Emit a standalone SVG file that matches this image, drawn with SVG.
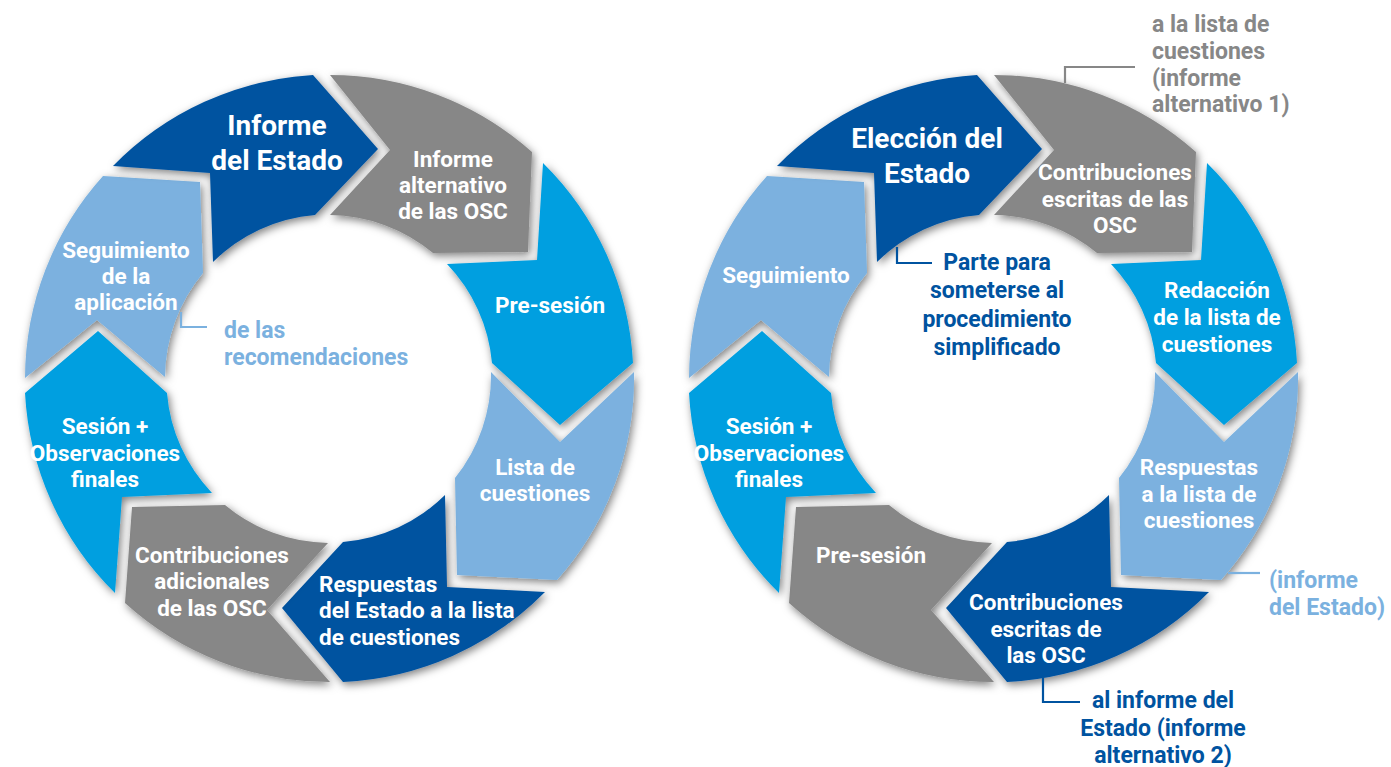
<svg xmlns="http://www.w3.org/2000/svg" width="1391" height="767" viewBox="0 0 1391 767">
<defs>
<filter id="sh" x="-20%" y="-20%" width="140%" height="140%">
<feDropShadow dx="2" dy="3" stdDeviation="4" flood-color="#000" flood-opacity="0.5"/>
</filter>
<style>
.db{fill:#0053A0}.gr{fill:#878787}.sb{fill:#009FE0}.lb{fill:#7BB1DF}
.seg{filter:url(#sh)}
.t{font-family:Roboto,"Liberation Sans",sans-serif;font-weight:700;font-size:22.5px;fill:#fff;text-anchor:middle}
.big{font-size:28px}
.l{text-anchor:start}
.a{font-family:Roboto,"Liberation Sans",sans-serif;font-weight:700;font-size:23px}
.adb{fill:#0053A0}.agr{fill:#878787}.alb{fill:#7BB1DF}
.ln{fill:none;stroke-width:2.2}
</style>
</defs>
<rect width="1391" height="767" fill="#fff"/>

<!-- LEFT CYCLE -->
<g id="l-seguimiento">
<path class="seg lb" d="M25,378 A304,304 0 0 1 103,176 L200,182 L203,273 A164,164 0 0 0 165,377 L97,320 Z"/>
<text class="t"><tspan x="126" y="258">Seguimiento</tspan><tspan x="126" y="284">de la</tspan><tspan x="126" y="310">aplicación</tspan></text>
</g>
<g id="l-informe-estado">
<path class="seg db" d="M113,166 A304,304 0 0 1 313,75 L378,149 L315,215 A164,164 0 0 0 213,262 L210,173 Z"/>
<text class="t big"><tspan x="277" y="135">Informe</tspan><tspan x="277" y="170">del Estado</tspan></text>
</g>
<g id="l-informe-alternativo">
<path class="seg gr" d="M330,75 A304,304 0 0 1 532,152 L528,252 L433,253 A164,164 0 0 0 330,215 L390,150 Z"/>
<text class="t"><tspan x="453" y="167">Informe</tspan><tspan x="453" y="193">alternativo</tspan><tspan x="453" y="219">de las OSC</tspan></text>
</g>
<g id="l-presesion">
<path class="seg sb" d="M543,163 A304,304 0 0 1 633,363 L560,425 L492,363 A164,164 0 0 0 447,264 L537,260 Z"/>
<text class="t"><tspan x="550" y="313">Pre-sesión</tspan></text>
</g>
<g id="l-lista">
<path class="seg lb" d="M634,372 A304,304 0 0 1 557,580 L457,575 L455,478 A164,164 0 0 0 491,372 L560,442 Z"/>
<text class="t"><tspan x="535" y="475">Lista de</tspan><tspan x="535" y="501">cuestiones</tspan></text>
</g>
<g id="l-respuestas">
<path class="seg db" d="M545,592 A304,304 0 0 1 343,682 L282,608 L343,542 A164,164 0 0 0 445,495 L447,587 Z"/>
<text class="t l"><tspan x="319" y="592">Respuestas</tspan><tspan x="319" y="618">del Estado a la lista</tspan><tspan x="319" y="645">de cuestiones</tspan></text>
</g>
<g id="l-contribuciones">
<path class="seg gr" d="M330,682 A304,304 0 0 1 125,603 L132,507 L225,505 A164,164 0 0 0 328,543 L267,610 Z"/>
<text class="t"><tspan x="212" y="563">Contribuciones</tspan><tspan x="212" y="589">adicionales</tspan><tspan x="212" y="616">de las OSC</tspan></text>
</g>
<g id="l-sesion">
<path class="seg sb" d="M115,593 A304,304 0 0 1 25,393 L98,331 L167,393 A164,164 0 0 0 212,493 L122,497 Z"/>
<text class="t"><tspan x="105" y="434">Sesión +</tspan><tspan x="105" y="461">Observaciones</tspan><tspan x="105" y="487">finales</tspan></text>
</g>

<!-- RIGHT CYCLE -->
<g id="r-seguimiento">
<path class="seg lb" transform="translate(664 0)" d="M25,378 A304,304 0 0 1 103,176 L200,182 L203,273 A164,164 0 0 0 165,377 L97,320 Z"/>
<text class="t"><tspan x="786" y="283">Seguimiento</tspan></text>
</g>
<g id="r-eleccion">
<path class="seg db" transform="translate(664 0)" d="M113,166 A304,304 0 0 1 313,75 L378,149 L315,215 A164,164 0 0 0 213,262 L210,173 Z"/>
<text class="t big"><tspan x="927" y="148">Elección del</tspan><tspan x="927" y="183">Estado</tspan></text>
</g>
<g id="r-contribuciones-1">
<path class="seg gr" transform="translate(664 0)" d="M330,75 A304,304 0 0 1 532,152 L528,252 L433,253 A164,164 0 0 0 330,215 L390,150 Z"/>
<text class="t"><tspan x="1115" y="180">Contribuciones</tspan><tspan x="1115" y="207">escritas de las</tspan><tspan x="1115" y="233">OSC</tspan></text>
</g>
<g id="r-redaccion">
<path class="seg sb" transform="translate(664 0)" d="M543,163 A304,304 0 0 1 633,363 L560,425 L492,363 A164,164 0 0 0 447,264 L537,260 Z"/>
<text class="t"><tspan x="1217" y="298">Redacción</tspan><tspan x="1217" y="325">de la lista de</tspan><tspan x="1217" y="352">cuestiones</tspan></text>
</g>
<g id="r-respuestas">
<path class="seg lb" transform="translate(664 0)" d="M634,372 A304,304 0 0 1 557,580 L457,575 L455,478 A164,164 0 0 0 491,372 L560,442 Z"/>
<text class="t"><tspan x="1199" y="475">Respuestas</tspan><tspan x="1199" y="502">a la lista de</tspan><tspan x="1199" y="528">cuestiones</tspan></text>
</g>
<g id="r-contribuciones-2">
<path class="seg db" transform="translate(664 0)" d="M545,592 A304,304 0 0 1 343,682 L282,608 L343,542 A164,164 0 0 0 445,495 L447,587 Z"/>
<text class="t"><tspan x="1046" y="610">Contribuciones</tspan><tspan x="1046" y="637">escritas de</tspan><tspan x="1046" y="663">las OSC</tspan></text>
</g>
<g id="r-presesion">
<path class="seg gr" transform="translate(664 0)" d="M330,682 A304,304 0 0 1 125,603 L132,507 L225,505 A164,164 0 0 0 328,543 L267,610 Z"/>
<text class="t"><tspan x="871" y="563">Pre-sesión</tspan></text>
</g>
<g id="r-sesion">
<path class="seg sb" transform="translate(664 0)" d="M115,593 A304,304 0 0 1 25,393 L98,331 L167,393 A164,164 0 0 0 212,493 L122,497 Z"/>
<text class="t"><tspan x="769" y="434">Sesión +</tspan><tspan x="769" y="461">Observaciones</tspan><tspan x="769" y="487">finales</tspan></text>
</g>

<!-- CONNECTORS -->
<g id="connectors">
<path class="ln" stroke="#7BB1DF" d="M181,312 V327 H207"/>
<path class="ln" stroke="#0053A0" d="M897,247 V263 H932"/>
<path class="ln" stroke="#878787" d="M1065,83 V67 H1135"/>
<path class="ln" stroke="#7BB1DF" d="M1228,573 H1260"/>
<path class="ln" stroke="#0053A0" d="M1043,678 V702 H1080"/>
</g>

<!-- ANNOTATIONS -->
<g id="note-recomendaciones">
<text class="a alb"><tspan x="224" y="338">de las</tspan><tspan x="224" y="365">recomendaciones</tspan></text>
</g>
<g id="note-simplificado">
<text class="a adb" text-anchor="middle"><tspan x="997" y="270">Parte para</tspan><tspan x="997" y="298">someterse al</tspan><tspan x="997" y="327">procedimiento</tspan><tspan x="997" y="355">simplificado</tspan></text>
</g>
<g id="note-alternativo-1">
<text class="a agr"><tspan x="1152" y="32">a la lista de</tspan><tspan x="1152" y="59">cuestiones</tspan><tspan x="1152" y="86">(informe</tspan><tspan x="1152" y="112">alternativo 1)</tspan></text>
</g>
<g id="note-informe-estado">
<text class="a alb"><tspan x="1269" y="588">(informe</tspan><tspan x="1269" y="615">del Estado)</tspan></text>
</g>
<g id="note-alternativo-2">
<text class="a adb" text-anchor="middle"><tspan x="1163" y="708">al informe del</tspan><tspan x="1163" y="736">Estado (informe</tspan><tspan x="1163" y="763">alternativo 2)</tspan></text>
</g>
</svg>
